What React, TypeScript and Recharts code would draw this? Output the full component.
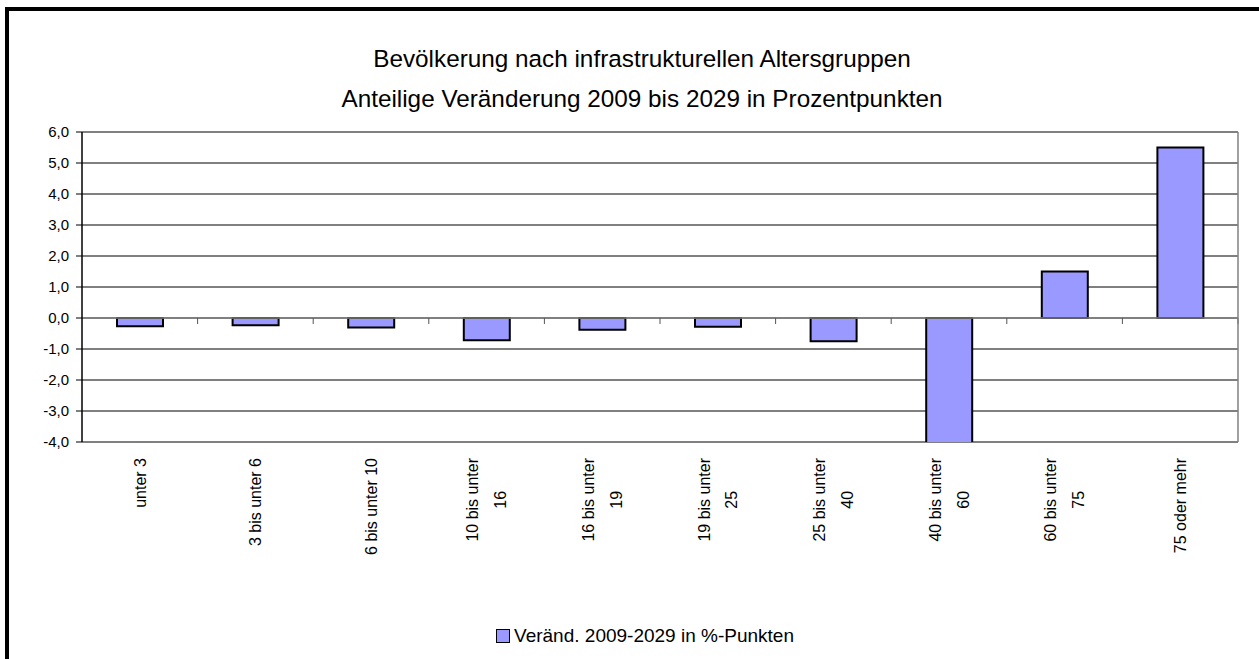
import React from "react";
import {
  BarChart,
  Bar,
  XAxis,
  YAxis,
  CartesianGrid,
  Legend,
  ReferenceLine,
} from "recharts";

// age groups and the change 2009 -> 2029 in percentage points
const groups = [
  "unter 3",
  "3 bis unter 6",
  "6 bis unter 10",
  "10 bis unter 16",
  "16 bis unter 19",
  "19 bis unter 25",
  "25 bis unter 40",
  "40 bis unter 60",
  "60 bis unter 75",
  "75 oder mehr",
];
const changes = [-0.27, -0.23, -0.31, -0.72, -0.38, -0.28, -0.75, -4.12, 1.5, 5.5];
const yTicks = [-4, -3, -2, -1, 0, 1, 2, 3, 4, 5, 6];
const titleLines = [
  "Bevölkerung nach infrastrukturellen Altersgruppen",
  "Anteilige Veränderung 2009 bis 2029 in Prozentpunkten",
];
const seriesName = "Veränd. 2009-2029 in %-Punkten";

const data = groups.map((group, i) => ({ group, value: changes[i] }));

const FONT = '"Liberation Sans", Arial, sans-serif';
const BAR_FILL = "#9999ff";
const TICK_FONT_SIZE = 16;

// Excel-style wrap: long labels break at the last space
const splitLabel = (s: string) => {
  if (s.length <= 14) return [s];
  const k = s.lastIndexOf(" ");
  return [s.slice(0, k), s.slice(k + 1)];
};

let ctx: CanvasRenderingContext2D | null = null;
const textWidth = (s: string) => {
  if (!ctx) {
    ctx = document.createElement("canvas").getContext("2d");
    if (ctx) ctx.font = `${TICK_FONT_SIZE}px ${FONT}`;
  }
  return ctx ? ctx.measureText(s).width : s.length * TICK_FONT_SIZE * 0.5;
};

const GroupTick = ({ x, y, payload }: any) => {
  const lines = splitLabel(String(payload.value));
  const offsets = lines.length === 1 ? [5.7] : [-8.3, 19.7];
  const half = Math.max(...lines.map(textWidth)) / 2;
  return (
    <g transform={`translate(${x},${y})`}>
      <text
        transform="rotate(-90)"
        textAnchor="middle"
        fontSize={TICK_FONT_SIZE}
        fontFamily={FONT}
        fill="#000"
      >
        {lines.map((l, i) => (
          <tspan key={i} x={-half} y={offsets[i]}>
            {l}
          </tspan>
        ))}
      </text>
    </g>
  );
};

// zero line with small tick marks between categories
const ZeroLine = (props: any) => {
  const { x1, x2, y1 } = props;
  const n = groups.length;
  const step = (x2 - x1) / n;
  const marks = [];
  for (let i = 1; i <= n; i++) {
    const xx = x1 + i * step;
    marks.push(<line key={i} x1={xx} x2={xx} y1={y1} y2={y1 + 6} stroke="#555" strokeWidth={1} />);
  }
  return (
    <g>
      <line x1={x1} x2={x2} y1={y1} y2={y1} stroke="#808080" strokeWidth={1.5} />
      {marks}
    </g>
  );
};

const LegendBox = () => (
  <div
    style={{
      display: "flex",
      justifyContent: "center",
      alignItems: "center",
      fontFamily: FONT,
      fontSize: 19,
      color: "#000",
    }}
  >
    <span
      style={{
        display: "inline-block",
        width: 12,
        height: 12,
        background: BAR_FILL,
        border: "1.5px solid #000",
        marginRight: 4,
      }}
    />
    <span>{seriesName}</span>
  </div>
);

export default function App() {
  return (
    <div
      style={{
        position: "absolute",
        left: 0,
        top: 0,
        width: 1259,
        height: 659,
        overflow: "hidden",
        background: "#fff",
      }}
    >
      <div
        style={{
          position: "absolute",
          left: 5,
          top: 7,
          right: 0,
          bottom: 0,
          borderTop: "4px solid #000",
          borderLeft: "4px solid #000",
        }}
      />
      <div style={{ position: "absolute", left: 0, top: 0 }}>
        <BarChart
          width={1259}
          height={659}
          data={data}
          margin={{ top: 132, right: 20, bottom: 17, left: 0 }}
        >
          <CartesianGrid vertical={false} stroke="#000" strokeWidth={1} />
          <XAxis
            dataKey="group"
            interval={0}
            axisLine={false}
            tickLine={false}
            tickSize={0}
            tickMargin={16}
            height={200}
            tick={<GroupTick />}
          />
          <YAxis
            width={82}
            domain={[-4, 6]}
            ticks={yTicks}
            allowDataOverflow
            axisLine={{ stroke: "#000", strokeWidth: 1.5 }}
            tickLine={{ stroke: "#000" }}
            tickSize={6}
            tickMargin={7}
            tick={{ fill: "#000", fontSize: 15, fontFamily: FONT }}
            tickFormatter={(v: number) => v.toFixed(1).replace(".", ",")}
          />
          {/* grey plot-area frame on the right */}
          <YAxis
            yAxisId="frame"
            orientation="right"
            width={1}
            domain={[-4, 6]}
            ticks={yTicks}
            allowDataOverflow
            tick={false}
            tickLine={false}
            axisLine={{ stroke: "#808080", strokeWidth: 1.5 }}
          />
          <ReferenceLine y={6} stroke="#808080" strokeWidth={1.5} />
          <Bar
            dataKey="value"
            name={seriesName}
            fill={BAR_FILL}
            stroke="#000"
            strokeWidth={2}
            barSize={46}
            isAnimationActive={false}
          />
          <ReferenceLine y={0} shape={<ZeroLine />} />
          <Legend
            verticalAlign="middle"
            align="center"
            wrapperStyle={{ top: 625, left: 31, width: 1228 }}
            content={() => <LegendBox />}
          />
        </BarChart>
      </div>
      <svg
        width={1259}
        height={659}
        style={{ position: "absolute", left: 0, top: 0, pointerEvents: "none" }}
      >
        {titleLines.map((t, i) => (
          <text
            key={i}
            x={642}
            y={67 + i * 40}
            textAnchor="middle"
            fontSize={24.3}
            fontFamily={FONT}
            fill="#000"
          >
            {t}
          </text>
        ))}
      </svg>
    </div>
  );
}
